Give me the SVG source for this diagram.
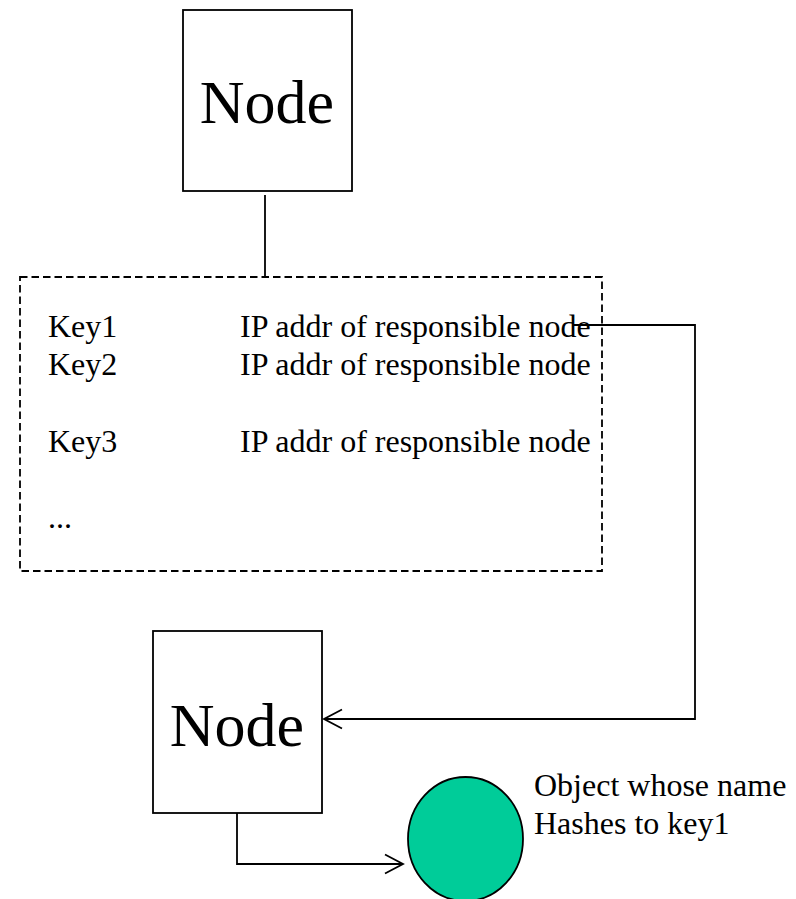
<svg xmlns="http://www.w3.org/2000/svg" width="796" height="899" viewBox="0 0 796 899">
  <style>
    .box { fill: #ffffff; stroke: #000000; stroke-width: 1.8; }
    .table { fill: none; stroke: #000000; stroke-width: 1.8; stroke-dasharray: 7.5 4; }
    .wire { fill: none; stroke: #000000; stroke-width: 1.8; }
    .big { font-family: "Liberation Serif", "Times New Roman", serif; font-size: 62px; fill: #000000; }
    .txt { font-family: "Liberation Serif", "Times New Roman", serif; font-size: 32px; fill: #000000; }
    .obj { fill: #00CC99; stroke: #000000; stroke-width: 1.8; }
  </style>
  <defs>
    <marker id="open-arrow" markerUnits="userSpaceOnUse" markerWidth="22" markerHeight="24" refX="20" refY="12" orient="auto">
      <path d="M2,2.5 L20,12 L2,21.5" fill="none" stroke="#000000" stroke-width="1.8"/>
    </marker>
  </defs>

  <rect width="796" height="899" fill="#ffffff"/>

  <!-- lookup table (dashed) -->
  <g id="table">
    <rect class="table" x="20" y="277" width="582" height="294"/>
    <text class="txt" x="48" y="337">Key1</text>
    <text class="txt" x="240" y="337">IP addr of responsible node</text>
    <text class="txt" x="48" y="375">Key2</text>
    <text class="txt" x="240" y="375">IP addr of responsible node</text>
    <text class="txt" x="48" y="452">Key3</text>
    <text class="txt" x="240" y="452">IP addr of responsible node</text>
    <text class="txt" x="48" y="528">...</text>
  </g>

  <!-- connectors -->
  <g id="connectors">
    <line class="wire" x1="265" y1="195" x2="265" y2="277"/>
    <polyline class="wire" points="573,325 695,325 695,719 324,719" marker-end="url(#open-arrow)"/>
    <polyline class="wire" points="237,813 237,864 403,864" marker-end="url(#open-arrow)"/>
  </g>

  <g id="node-top">
    <rect class="box" x="183" y="10" width="169" height="181"/>
    <text class="big" x="267" y="123" text-anchor="middle">Node</text>
  </g>

  <g id="node-bottom">
    <rect class="box" x="153" y="631" width="169" height="182"/>
    <text class="big" x="237" y="746" text-anchor="middle">Node</text>
  </g>

  <g id="object">
    <ellipse class="obj" cx="465.5" cy="839" rx="57.5" ry="62"/>
    <text class="txt" x="534" y="796">Object whose name</text>
    <text class="txt" x="534" y="834">Hashes to key1</text>
  </g>
</svg>
